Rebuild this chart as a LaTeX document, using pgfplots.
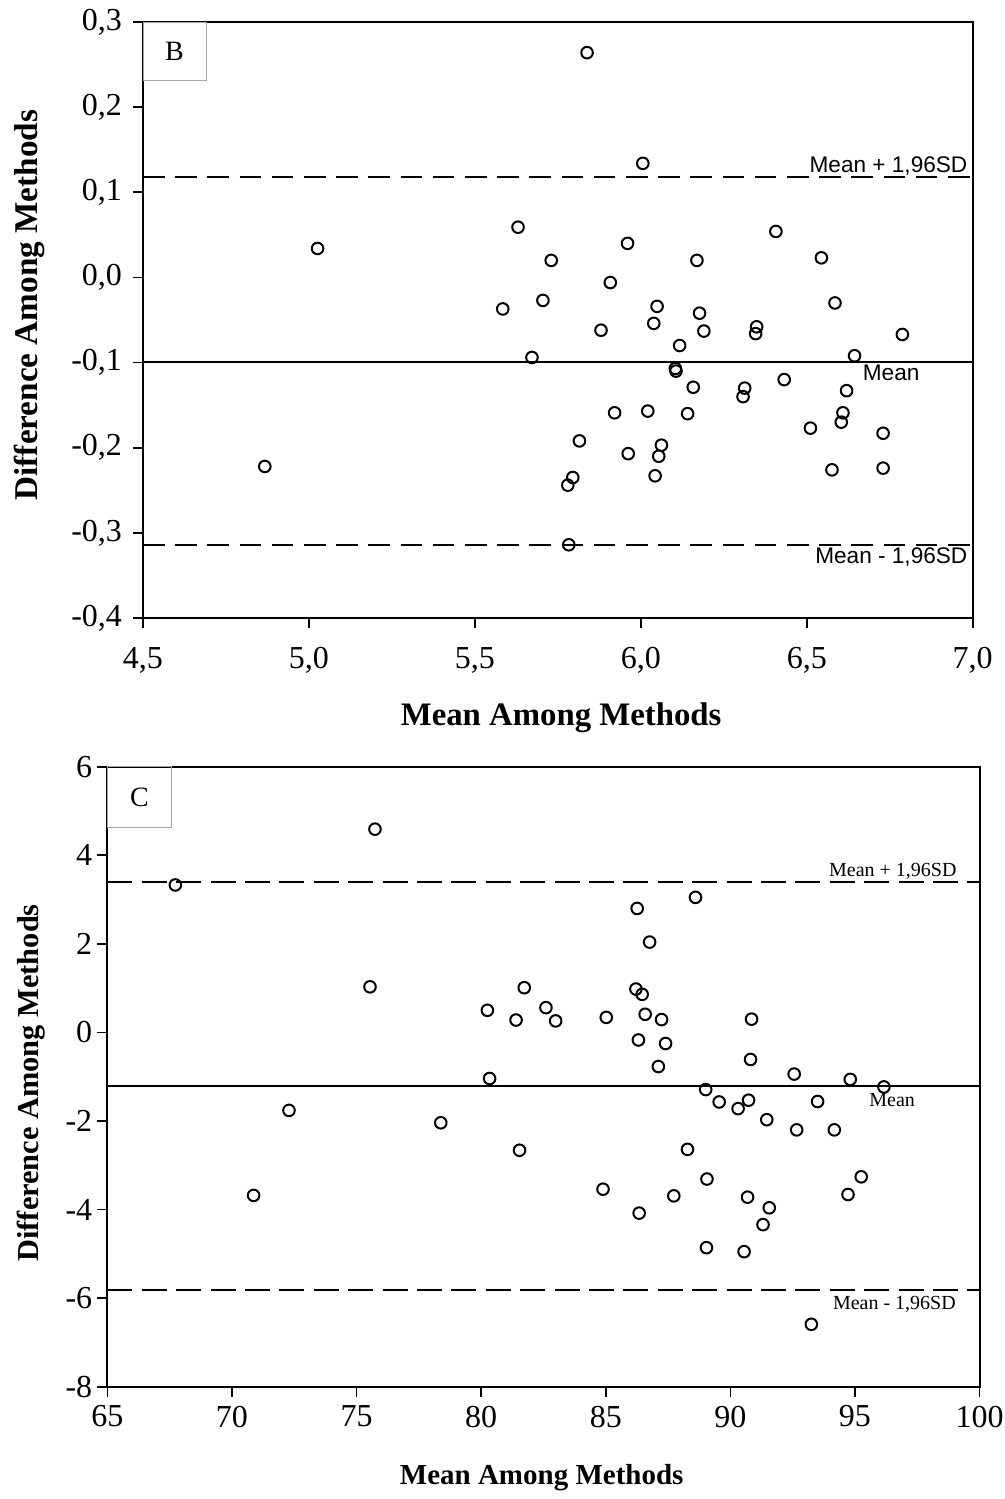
\documentclass[border=0pt]{standalone}
\usepackage{fontspec}
\setmainfont{Liberation Serif}
\newfontfamily\arialfont{Liberation Sans}
\usepackage{pgfplots}
\pgfplotsset{compat=1.18}
\pgfplotsset{
  bastyle/.style={
    scale only axis,
    tick align=outside, tick pos=left,
    major tick length=5pt,
    axis line style={line width=1pt},
    every tick/.style={black, line width=0.8pt},
    clip=false,
    /pgf/number format/assume math mode=true,
    ticklabel style={font=\fontsize{16}{17}\selectfont},
  },
  circ/.style={only marks, mark=o, mark size=2.9pt, line width=1pt, black, mark options={fill=white}},
}
\begin{document}
\begin{tikzpicture}[x=1pt,y=1pt]
% ---------------- Panel B ----------------
\begin{axis}[bastyle,
  at={(71.5pt,-11pt)}, anchor=north west,
  width=414.85pt, height=298pt,
  xmin=4.5, xmax=7, ymin=-0.4, ymax=0.3,
  xtick={4.5,5,5.5,6,6.5,7},
  ytick={-0.4,-0.3,-0.2,-0.1,0,0.1,0.2,0.3},
  /pgf/number format/fixed,
  /pgf/number format/fixed zerofill,
  /pgf/number format/precision=1,
  /pgf/number format/use comma,
  xticklabel style={yshift=-6pt},
  yticklabel style={xshift=-2pt},
  xlabel={Mean Among Methods},
  ylabel={Difference Among Methods},
  xlabel style={at={(axis description cs:0.504,-0.168)}, anchor=center, font=\bfseries\fontsize{16.4}{18}\selectfont},
  ylabel style={at={(axis description cs:-0.137,0.525)}, anchor=center, font=\bfseries\fontsize{16.6}{18}\selectfont},
]
\addplot[black, line width=1pt] coordinates {(4.5,-0.099) (7,-0.099)};
\addplot[black, line width=1pt, dash pattern=on 10.8pt off 5.3pt] coordinates {(4.5,0.1175) (7,0.1175)};
\addplot[black, line width=1pt, dash pattern=on 10.8pt off 5.3pt] coordinates {(4.5,-0.314) (7,-0.314)};
\addplot[circ] coordinates {
(4.867,-0.222) (5.026,0.034) (5.584,-0.037) (5.630,0.059) (5.672,-0.094)
(5.705,-0.027) (5.730,0.020) (5.780,-0.244) (5.783,-0.314) (5.795,-0.235)
(5.815,-0.192) (5.838,0.264) (5.880,-0.062) (5.908,-0.006) (5.921,-0.159)
(5.960,0.040) (5.962,-0.207) (6.006,0.134) (6.021,-0.157) (6.039,-0.054)
(6.043,-0.233) (6.049,-0.034) (6.054,-0.210) (6.062,-0.197) (6.104,-0.107)
(6.106,-0.110) (6.117,-0.080) (6.141,-0.160) (6.158,-0.129) (6.169,0.020)
(6.177,-0.042) (6.190,-0.063) (6.308,-0.140) (6.313,-0.130) (6.346,-0.066)
(6.349,-0.058) (6.407,0.054) (6.432,-0.120) (6.511,-0.177) (6.544,0.023)
(6.576,-0.226) (6.585,-0.030) (6.604,-0.170) (6.609,-0.159) (6.620,-0.133)
(6.644,-0.092) (6.730,-0.183) (6.730,-0.224) (6.788,-0.067)
};
\draw[gray!70, line width=0.5pt] (axis cs:4.5,0.3) rectangle (axis cs:4.69,0.2315);
\node at (axis cs:4.595,0.266) {\fontsize{14}{14}\selectfont B};
\node[anchor=south east, inner sep=0pt, yshift=1pt] at (axis cs:6.985,0.1175) {\arialfont\fontsize{11.3}{12}\selectfont Mean + 1,96SD};
\node[anchor=west, inner sep=0pt] at (axis cs:6.668,-0.1125) {\arialfont\fontsize{11.3}{12}\selectfont Mean};
\node[anchor=east, inner sep=0pt] at (axis cs:6.985,-0.328) {\arialfont\fontsize{11.3}{12}\selectfont Mean - 1,96SD};
\end{axis}
% ---------------- Panel C ----------------
\begin{axis}[bastyle,
  at={(53.65pt,-383.35pt)}, anchor=north west,
  width=436.15pt, height=310pt,
  xmin=65, xmax=100, ymin=-8, ymax=6,
  xtick={65,70,75,80,85,90,95,100},
  ytick={-8,-6,-4,-2,0,2,4,6},
  xticklabel style={yshift=-1pt},
  yticklabel style={xshift=1pt},
  xlabel={Mean Among Methods},
  ylabel={Difference Among Methods},
  xlabel style={at={(axis description cs:0.498,-0.146)}, anchor=center, font=\bfseries\fontsize{14.5}{16}\selectfont},
  ylabel style={at={(axis description cs:-0.0875,0.49)}, anchor=center, font=\bfseries\fontsize{15.2}{16}\selectfont},
]
\addplot[black, line width=1pt] coordinates {(65,-1.205) (100,-1.205)};
\addplot[black, line width=1pt, dash pattern=on 12.5pt off 4.7pt] coordinates {(65,3.386) (100,3.386)};
\addplot[black, line width=1pt, dash pattern=on 12.5pt off 4.7pt] coordinates {(65,-5.81) (100,-5.81)};
\addplot[circ] coordinates {
(67.73,3.33) (70.87,-3.68) (72.29,-1.76) (75.54,1.03) (75.74,4.59)
(78.38,-2.04) (80.25,0.50) (80.34,-1.04) (81.40,0.28) (81.54,-2.66)
(81.73,1.01) (82.60,0.56) (82.99,0.26) (84.89,-3.54) (85.02,0.34)
(86.21,0.98) (86.26,2.80) (86.31,-0.17) (86.34,-4.08) (86.46,0.86)
(86.58,0.41) (86.76,2.04) (87.11,-0.77) (87.24,0.29) (87.40,-0.25)
(87.73,-3.69) (88.28,-2.64) (88.60,3.05) (89.01,-1.29) (89.04,-4.86)
(89.06,-3.31) (89.55,-1.57) (90.31,-1.72) (90.55,-4.95) (90.69,-3.72)
(90.73,-1.53) (90.81,-0.61) (90.85,0.30) (91.31,-4.34) (91.46,-1.97)
(91.56,-3.96) (92.56,-0.94) (92.66,-2.20) (93.25,-6.59) (93.50,-1.56)
(94.17,-2.20) (94.72,-3.66) (94.81,-1.06) (95.25,-3.26) (96.16,-1.23)
};
\draw[gray!70, line width=0.5pt] (axis cs:65,6) rectangle (axis cs:67.58,4.63);
\node at (axis cs:66.29,5.31) {\fontsize{14}{14}\selectfont C};
\node[anchor=east, inner sep=0pt] at (axis cs:99.09,3.64) {\fontsize{10}{11}\selectfont Mean + 1,96SD};
\node[anchor=west, inner sep=0pt] at (axis cs:95.56,-1.53) {\fontsize{10}{11}\selectfont Mean};
\node[anchor=east, inner sep=0pt] at (axis cs:99.06,-6.13) {\fontsize{10}{11}\selectfont Mean - 1,96SD};
\end{axis}
\pgfresetboundingbox
\useasboundingbox (0,0) rectangle (502.5pt,-749.5pt);
\end{tikzpicture}
\end{document}
